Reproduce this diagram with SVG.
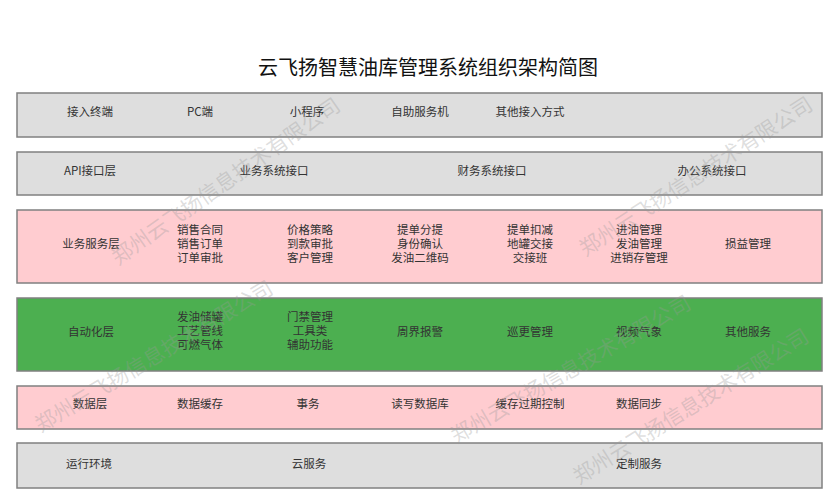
<svg xmlns="http://www.w3.org/2000/svg" width="825" height="500" viewBox="0 0 825 500">
<style>
text{font-family:"Noto Sans CJK SC","Liberation Sans",sans-serif;}
.t{font-size:11.5px;fill:#333;text-anchor:middle;dominant-baseline:central;}
.title{font-size:20px;fill:#111;text-anchor:middle;}
.band{stroke:#808080;stroke-width:1.5;}
.gray{fill:#dedede;}
.pink{fill:#ffccd0;}
.green{fill:#4caf50;}
.wm{font-size:21px;fill:#9a9a9a;fill-opacity:0.32;text-anchor:middle;dominant-baseline:central;}
</style>
<rect width="825" height="500" fill="#fff"/>
<text class="title" x="428" y="75">云飞扬智慧油库管理系统组织架构简图</text>

<g id="layer-access">
<rect class="band gray" x="17" y="93" width="805" height="44"/>
<text class="t" x="90" y="111">接入终端</text>
<text class="t" x="200" y="111">PC端</text>
<text class="t" x="307" y="111">小程序</text>
<text class="t" x="420" y="111">自助服务机</text>
<text class="t" x="530" y="111">其他接入方式</text>
</g>

<g id="layer-api">
<rect class="band gray" x="17" y="152" width="805" height="43"/>
<text class="t" x="90" y="170">API接口层</text>
<text class="t" x="274" y="170">业务系统接口</text>
<text class="t" x="492" y="170">财务系统接口</text>
<text class="t" x="712" y="170">办公系统接口</text>
</g>

<g id="layer-business">
<rect class="band pink" x="17" y="210" width="805" height="73"/>
<text class="t" x="91" y="243">业务服务层</text>
<text class="t" y="229"><tspan x="200">销售合同</tspan><tspan x="200" dy="14">销售订单</tspan><tspan x="200" dy="14">订单审批</tspan></text>
<text class="t" y="229"><tspan x="310">价格策略</tspan><tspan x="310" dy="14">到款审批</tspan><tspan x="310" dy="14">客户管理</tspan></text>
<text class="t" y="229"><tspan x="420">提单分提</tspan><tspan x="420" dy="14">身份确认</tspan><tspan x="420" dy="14">发油二维码</tspan></text>
<text class="t" y="229"><tspan x="530">提单扣减</tspan><tspan x="530" dy="14">地罐交接</tspan><tspan x="530" dy="14">交接班</tspan></text>
<text class="t" y="229"><tspan x="639">进油管理</tspan><tspan x="639" dy="14">发油管理</tspan><tspan x="639" dy="14">进销存管理</tspan></text>
<text class="t" x="748" y="243">损益管理</text>
</g>

<g id="layer-automation">
<rect class="band green" x="17" y="298" width="805" height="73"/>
<text class="t" x="91" y="331">自动化层</text>
<text class="t" y="316"><tspan x="200">发油储罐</tspan><tspan x="200" dy="14">工艺管线</tspan><tspan x="200" dy="14">可燃气体</tspan></text>
<text class="t" y="316"><tspan x="310">门禁管理</tspan><tspan x="310" dy="14">工具类</tspan><tspan x="310" dy="14">辅助功能</tspan></text>
<text class="t" x="420" y="331">周界报警</text>
<text class="t" x="530" y="331">巡更管理</text>
<text class="t" x="639" y="331">视频气象</text>
<text class="t" x="748" y="331">其他服务</text>
</g>

<g id="layer-data">
<rect class="band pink" x="17" y="386" width="805" height="43"/>
<text class="t" x="90" y="403">数据层</text>
<text class="t" x="200" y="403">数据缓存</text>
<text class="t" x="308" y="403">事务</text>
<text class="t" x="420" y="403">读写数据库</text>
<text class="t" x="530" y="403">缓存过期控制</text>
<text class="t" x="639" y="403">数据同步</text>
</g>

<g id="layer-runtime">
<rect class="band gray" x="17" y="443" width="805" height="45"/>
<text class="t" x="89" y="463">运行环境</text>
<text class="t" x="309" y="463">云服务</text>
<text class="t" x="639" y="463">定制服务</text>
</g>

<g id="connectors"></g>

<g id="watermarks">
<text class="wm" transform="translate(225,180) rotate(-35)">郑州云飞扬信息技术有限公司</text>
<text class="wm" transform="translate(695,175) rotate(-33)">郑州云飞扬信息技术有限公司</text>
<text class="wm" transform="translate(153,355) rotate(-31)">郑州云飞扬信息技术有限公司</text>
<text class="wm" transform="translate(570,368) rotate(-30)">郑州云飞扬信息技术有限公司</text>
<text class="wm" transform="translate(690,405) rotate(-32)">郑州云飞扬信息技术有限公司</text>
</g>
</svg>
